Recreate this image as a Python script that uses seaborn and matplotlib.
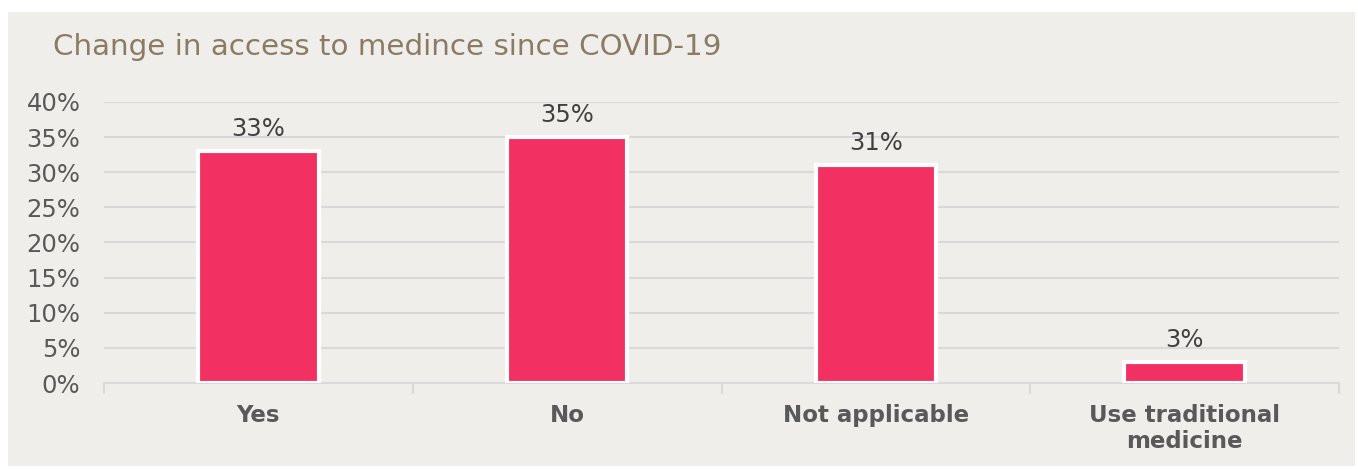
import matplotlib.pyplot as plt
import matplotlib.ticker as mticker
from matplotlib.patches import Rectangle
import pandas as pd
import seaborn as sns

# chart data
categories = ["Yes", "No", "Not applicable", "Use traditional\nmedicine"]
values = [33, 35, 31, 3]
y_ticks = [0, 5, 10, 15, 20, 25, 30, 35, 40]

df = pd.DataFrame({"category": categories, "value": values})

bg = "#F0EEEA"
sns.set_style("white")
plt.rcParams["font.family"] = ["DejaVu Sans"]

fig = plt.figure(figsize=(13.58, 4.69), dpi=100, facecolor="white")
# grey panel behind the chart
panel = Rectangle((8 / 1358, 3 / 469), 1347 / 1358, 454 / 469,
                  transform=fig.transFigure, facecolor=bg,
                  edgecolor="none", zorder=-5)
fig.add_artist(panel)
ax = fig.add_axes([104 / 1358, 86 / 469, 1235 / 1358, 281 / 469])
ax.set_facecolor(bg)
ax.set_zorder(1)

sns.barplot(data=df, x="category", y="value", color="#F23062", width=0.39,
            saturation=1, edgecolor="white", linewidth=3, ax=ax, zorder=3)

# data labels
for i, v in enumerate(values):
    ax.text(i, v + 1.4, f"{v}%", ha="center", va="bottom", fontsize=17.5,
            color="#404040")

ax.set_ylim(0, 40)
ax.set_xlim(-0.5, len(categories) - 0.5)
ax.set_yticks(y_ticks)
ax.yaxis.set_major_formatter(mticker.FuncFormatter(lambda v, p: f"{v:.0f}%"))
ax.tick_params(axis="y", length=0, labelsize=17.5, labelcolor="#595959", pad=17)
ax.tick_params(axis="x", which="major", length=0, labelsize=16.5,
               labelcolor="#595959", pad=15)
for lab in ax.get_xticklabels():
    lab.set_fontweight("bold")

# category boundary ticks
ax.set_xticks([x - 0.5 for x in range(len(categories) + 1)], minor=True)
ax.tick_params(axis="x", which="minor", bottom=True, length=8, width=1.5,
               color="#D9D9D9", direction="out")

ax.grid(axis="y", color="#D9D9D9", linewidth=1.5, zorder=0)
ax.set_axisbelow(True)
for s in ["top", "right", "left"]:
    ax.spines[s].set_visible(False)
ax.spines["bottom"].set_color("#D9D9D9")
ax.spines["bottom"].set_linewidth(1.5)

ax.set_xlabel("")
ax.set_ylabel("")

fig.text(53 / 1358, 1 - 47 / 469, "Change in access to medince since COVID-19",
         fontsize=21.2, color="#8B7B65", ha="left", va="center")

fig.savefig("out.png", dpi=100, facecolor="white")
